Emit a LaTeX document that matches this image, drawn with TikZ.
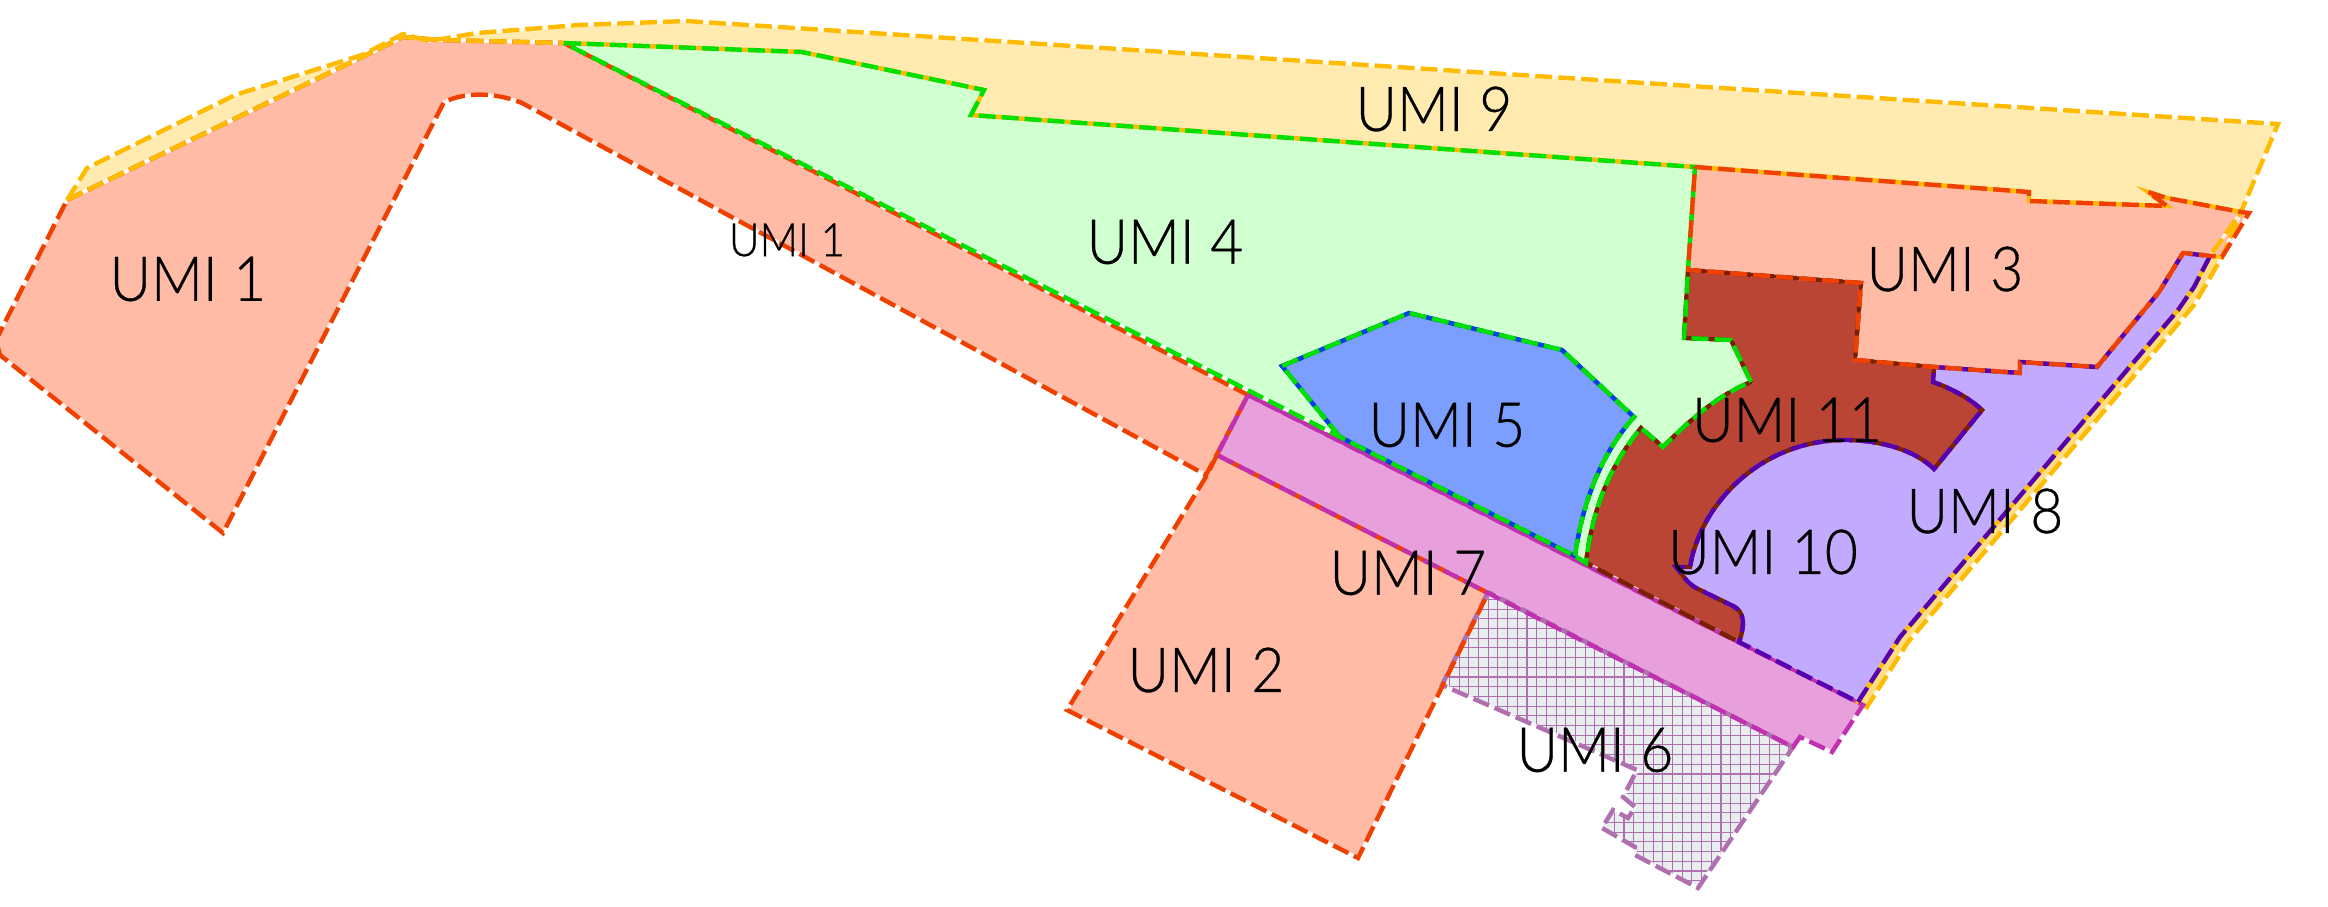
\documentclass[tikz,border=0pt]{standalone}
\usepackage{fontspec}
\newfontfamily\lab[FakeStretch=0.92,FakeBold=0.5]{Lato Light}
\definecolor{cRed}{HTML}{F04000}\definecolor{fRed}{HTML}{FFBBA5}
\definecolor{cYel}{HTML}{FFBB00}\definecolor{fYel}{HTML}{FFEBB0}\definecolor{fYelB}{HTML}{FFDD80}
\definecolor{cGrn}{HTML}{00E000}\definecolor{fGrn}{HTML}{D0FFD0}
\definecolor{cBlu}{HTML}{0040E0}\definecolor{fBlu}{HTML}{7C9EFF}
\definecolor{cPnk}{HTML}{C030B0}\definecolor{fPnk}{HTML}{E8A0DC}
\definecolor{cMav}{HTML}{B070B0}\definecolor{fMav}{HTML}{E8EEEE}
\definecolor{cDrk}{HTML}{7A1F00}\definecolor{fDrk}{HTML}{BA4535}
\definecolor{cPur}{HTML}{5500B0}\definecolor{fPur}{HTML}{C2ABFF}
\newcommand{\umiOne}[1]{\path[#1] (67,200) -- (362,57) -- (403,37) -- (440,40) -- (564,43) -- (1248,395) -- (1206,475) -- (522,103) .. controls (495,92) and (465,92) .. (444,102) -- (223,533) -- (0,355) -- (-4,340) -- cycle;}
\newcommand{\umiTwo}[1]{\path[#1] (1217,455) -- (1207,475) -- (1112,630) -- (1115,632) -- (1067,710) -- (1358,858) -- (1488,593) -- cycle;}
\newcommand{\umiThree}[1]{\path[#1] (1695,167) -- (2029,192) -- (2029,201) -- (2167,206) -- (2148,192) -- (2167,198) -- (2241,212) -- (2249,213) -- (2222,257) -- (2183,253) -- (2159,292) -- (2097,367) -- (2020,362) -- (2020,373) -- (1934,367) -- (1855,360) -- (1861,283) -- (1688,270) -- cycle;}
\newcommand{\umiFour}[1]{\path[#1] (564,43) -- (802,52) -- (984,90) -- (971,115) -- (1695,167) -- (1688,270) -- (1684,338) -- (1731,340) -- (1751,382) .. controls (1718,395) and (1690,420) .. (1663,447) -- (1641,428) .. controls (1610,465) and (1592,510) .. (1586,563) -- (1575,556) -- (1340,437) -- cycle;}
\newcommand{\umiFourB}[1]{\path[#1] (1340,437) -- (1282,366) -- (1409,313) -- (1562,350) -- (1634,417) .. controls (1600,455) and (1582,505) .. (1575,556);}
\newcommand{\umiFive}[1]{\path[#1] (1340,437) -- (1282,366) -- (1409,313) -- (1562,350) -- (1634,417) .. controls (1600,455) and (1582,505) .. (1575,556) -- cycle;}
\newcommand{\umiSix}[1]{\path[#1] (1488,592) -- (1442,685) -- (1637,770) -- (1623,797) -- (1635,807) -- (1628,818) -- (1613,810) -- (1602,828) -- (1635,847) -- (1635,855) -- (1698,888) -- (1793,747) -- cycle;}
\newcommand{\umiSeven}[1]{\path[#1] (1248,395) -- (1863,705) -- (1832,752) -- (1800,737) -- (1793,747) -- (1488,593) -- (1217,455) -- cycle;}
\newcommand{\umiEight}[1]{\path[#1] (1934,367) -- (2020,373) -- (2020,362) -- (2097,367) -- (2159,292) -- (2183,253) -- (2210,256) -- (2194,287) -- (2178,310) -- (1900,637) -- (1858,702) -- (1739,642) .. controls (1745,625) and (1745,612) .. (1733,606) -- (1696,588) .. controls (1686,582) and (1682,574) .. (1676,567) -- (1690,567) .. controls (1700,505) and (1760,440) .. (1845,440) .. controls (1880,440) and (1915,450) .. (1934,469) -- (1982,410) .. controls (1968,397) and (1950,388) .. (1933,382) -- cycle;}
\newcommand{\umiNine}[1]{\path[#1] (67,200) -- (87,168) -- (235,95) -- (362,55) -- (403,34) -- (429,41) -- (477,33) -- (579,25) -- (686,21) -- (2278,124) -- (2241,212) -- (2222,257) -- (2194,305) -- (1908,642) -- (1867,707) -- (1858,702) -- (1900,637) -- (2178,310) -- (2194,287) -- (2210,256) -- (2241,212) -- (2167,198) -- (2148,192) -- (2167,206) -- (2029,201) -- (2029,192) -- (1695,167) -- (971,115) -- (984,90) -- (802,52) -- (564,43) -- (440,40) -- (403,37) -- (362,57) -- cycle;}
\newcommand{\umiEleven}[1]{\path[#1] (1688,270) -- (1861,283) -- (1855,360) -- (1934,367) -- (1933,382) .. controls (1950,388) and (1968,397) .. (1982,410) -- (1934,469) .. controls (1915,450) and (1880,440) .. (1845,440) .. controls (1760,440) and (1700,505) .. (1690,567) -- (1676,567) .. controls (1682,574) and (1686,582) .. (1696,588) -- (1733,606) .. controls (1745,612) and (1745,625) .. (1739,642) -- (1586,563) .. controls (1592,510) and (1610,465) .. (1641,428) -- (1663,447) .. controls (1690,420) and (1718,395) .. (1751,382) -- (1731,340) -- (1684,338) -- cycle;}
\tikzset{
  edgeline/.style={line width=2.2pt,dash pattern=on 8.5pt off 3pt,line join=miter},
  gapline/.style={draw=white,line width=1.8pt,draw opacity=.75},
  under/.style={draw=#1,line width=1.9pt},
  umilabel/.style={inner sep=0pt,font=\lab\fontsize{31}{31}\selectfont,text=black},
  umismall/.style={inner sep=0pt,font=\lab\fontsize{23}{23}\selectfont,text=black}
}
\begin{document}
\begin{tikzpicture}[x=0.5pt,y=-0.5pt]
\useasboundingbox (0,0) rectangle (2328,906);
\clip (0,0) rectangle (2328,906);
% fills
\umiNine{fill=fYel}
\path[fill=fYelB] (2222,257) -- (2194,305) -- (1908,642) -- (1867,707) -- (1858,702) -- (1900,637) -- (2178,310) -- (2194,287) -- (2210,256) -- cycle;
\umiOne{fill=fRed}
\umiTwo{fill=fRed}
\umiSix{fill=fMav}
\begin{scope}
\umiSix{clip}
\foreach \gx in {0,...,40} {\draw[cMav,line width=.55pt] (1430+9.7*\gx,580) -- (1430+9.7*\gx,900);}
\foreach \gy in {0,...,33} {\draw[cMav,line width=.55pt] (1430,580+9.7*\gy) -- (1820,580+9.7*\gy);}
\end{scope}
\umiSeven{fill=fPnk}
\umiFour{fill=fGrn}
\umiFive{fill=fBlu}
\umiEight{fill=fPur}
\umiEleven{fill=fDrk}
\umiThree{fill=fRed}
% gaps in the dashes
\umiSix{gapline}\umiOne{gapline}\umiTwo{gapline}\umiNine{gapline}\umiSeven{gapline}
\umiFive{gapline}\umiEleven{gapline}\umiEight{gapline}\umiFour{gapline}\umiThree{gapline}
% shared edges show the neighbour's colour in the gaps
\draw[under=cRed] (1217,455) -- (1488,593) (1248,395) -- (1217,455);
\draw[under=cMav] (1488,593) -- (1793,747) (1488,593) -- (1442,685);
\draw[under=cYel] (564,43) -- (802,52) -- (984,90) -- (971,115) -- (1695,167) -- (2029,192) -- (2029,201) -- (2167,206) -- (2148,192) -- (2167,198) -- (2241,212);
\draw[under=cYel] (2222,257) -- (2210,256) -- (2194,287) -- (2178,310) -- (1900,637) -- (1858,702);
\draw[under=cPnk] (1248,395) -- (1863,705);
\draw[under=cBlu] (1340,437) -- (1282,366) -- (1409,313) -- (1562,350) -- (1634,417) .. controls (1600,455) and (1582,505) .. (1575,556);
\draw[under=cDrk] (1688,270) -- (1861,283) -- (1855,360) -- (1934,367) -- (1933,382) .. controls (1950,388) and (1968,397) .. (1982,410) -- (1934,469) .. controls (1915,450) and (1880,440) .. (1845,440) .. controls (1760,440) and (1700,505) .. (1690,567);
\draw[under=cDrk] (1688,270) -- (1684,338) -- (1731,340) -- (1751,382) .. controls (1718,395) and (1690,420) .. (1663,447) -- (1641,428) .. controls (1610,465) and (1592,510) .. (1586,563);
\draw[under=cPur] (1934,367) -- (2020,373) -- (2020,362) -- (2097,367);
\draw[under=cGrn] (1695,167) -- (1688,270);
% dashed outlines
\umiSix{edgeline,draw=cMav}
\umiOne{edgeline,draw=cRed}
\umiTwo{edgeline,draw=cRed}
\umiNine{edgeline,draw=cYel}
\umiSeven{edgeline,draw=cPnk,dash phase=3pt}
\umiFive{edgeline,draw=cBlu,dash phase=5pt}
\umiEleven{edgeline,draw=cDrk}
\umiEight{edgeline,draw=cPur}
\umiFour{edgeline,draw=cGrn}
\umiFourB{edgeline,draw=cGrn}
\umiThree{edgeline,draw=cRed}
% labels
\node[umilabel] (l1) at (188,279) {UMI 1};
\node[umismall] (l1b) at (787,240) {UMI 1};
\node[umilabel] (l2) at (1206,670) {UMI 2};
\node[umilabel] (l3) at (1945,269) {UMI 3};
\node[umilabel] (l4) at (1165,242) {UMI 4};
\node[umilabel] (l5) at (1447,425) {UMI 5};
\node[umilabel] (l6) at (1595,750) {UMI 6};
\node[umilabel] (l7) at (1408,573) {UMI 7};
\node[umilabel] (l8) at (1985,511) {UMI 8};
\node[umilabel] (l9) at (1434,109) {UMI 9};
\node[umilabel] (l10) at (1763,552) {UMI 10};
\node[umilabel] (l11) at (1787,420) {UMI 11};
\end{tikzpicture}
\end{document}
